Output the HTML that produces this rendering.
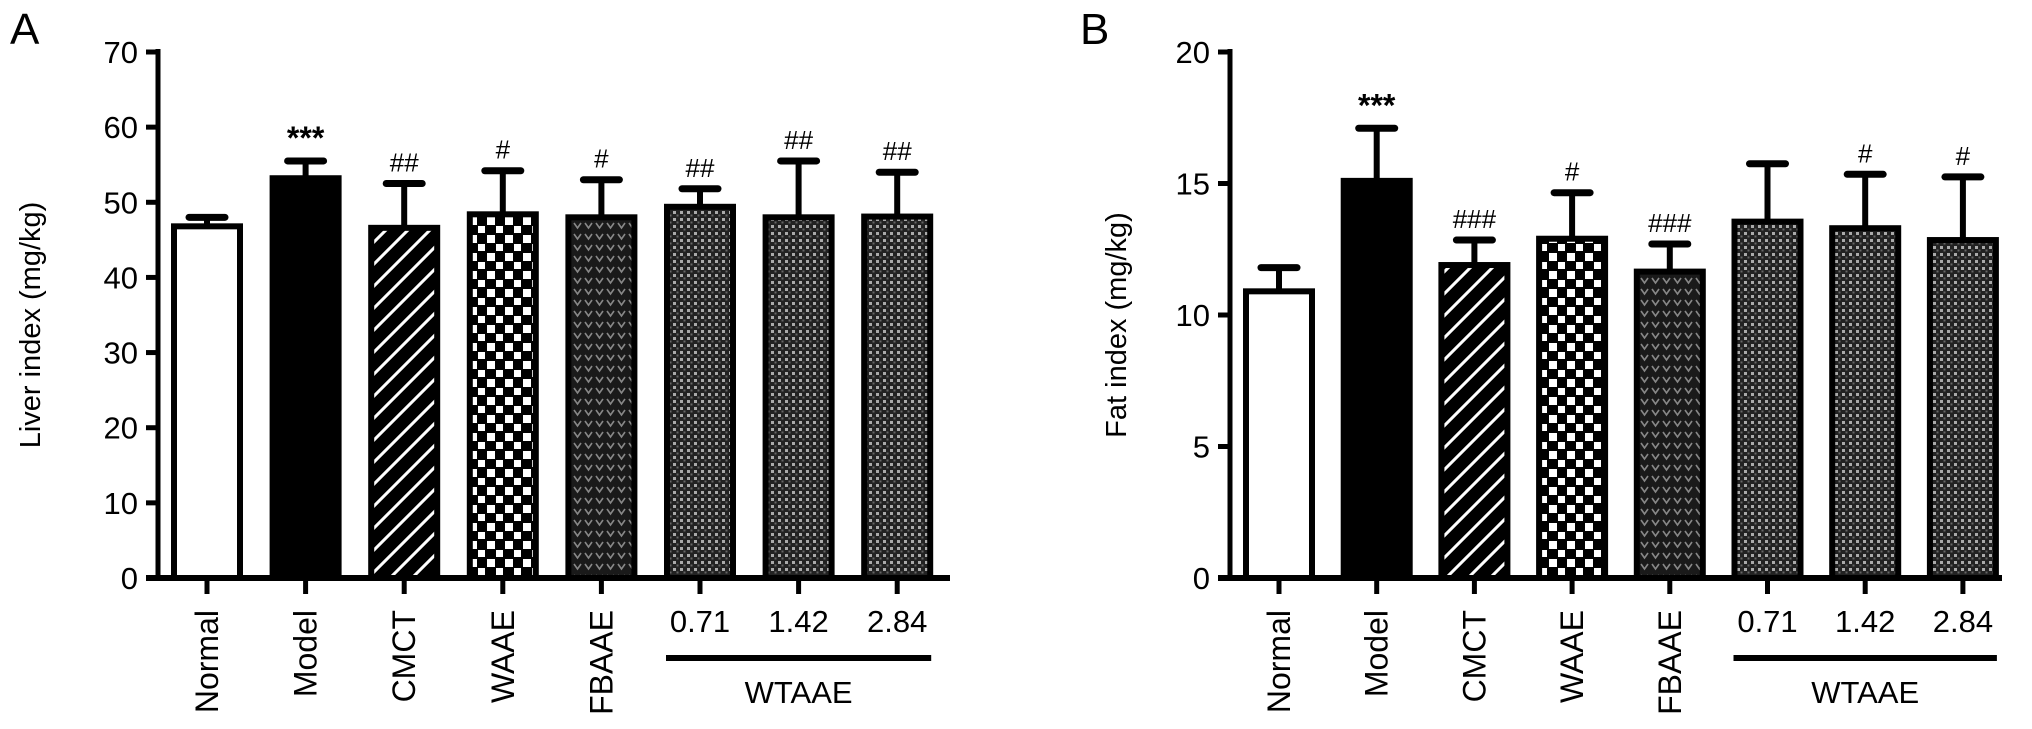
<!DOCTYPE html>
<html><head><meta charset="utf-8">
<style>
html,body{margin:0;padding:0;background:#fff;}
svg{display:block;font-family:"Liberation Sans",Arial,sans-serif;}
</style></head>
<body>
<svg id="chart" width="2032" height="729" viewBox="0 0 2032 729" xmlns="http://www.w3.org/2000/svg">
<defs>
  <pattern id="p-stripe" patternUnits="userSpaceOnUse" width="22" height="22">
    <rect width="22" height="22" fill="#000"/>
    <path d="M-5,27 L27,-5 M-16,16 L16,-16 M6,38 L38,6" stroke="#fff" stroke-width="3"/>
  </pattern>
  <pattern id="p-check" patternUnits="userSpaceOnUse" width="18" height="18">
    <rect width="18" height="18" fill="#000"/>
    <rect x="1" y="1" width="8" height="8" fill="#fff"/>
    <rect x="10" y="10" width="7" height="7" fill="#fff"/>
  </pattern>
  <pattern id="p-vee" patternUnits="userSpaceOnUse" width="11" height="11">
    <rect width="11" height="11" fill="#1a1a1a"/>
    <path d="M2,3 L5.5,8 L9,3" stroke="#888" stroke-width="1.6" fill="none"/>
  </pattern>
  <pattern id="p-dot" patternUnits="userSpaceOnUse" width="7" height="7">
    <rect width="7" height="7" fill="#222"/>
    <rect x="1" y="1" width="3" height="3" fill="#aaa"/>
    <rect x="4.5" y="4.5" width="2" height="2" fill="#666"/>
  </pattern>
</defs>
<g id="root"></g>
</svg>
<script>
const categories = ["Normal","Model","CMCT","WAAE","FBAAE","0.71","1.42","2.84"];
const fills = ["#fff","#000","url(#p-stripe)","url(#p-check)","url(#p-vee)","url(#p-dot)","url(#p-dot)","url(#p-dot)"];
const liverValues = [46.8,53.2,46.6,48.4,48.0,49.4,48.0,48.1];
const liverErrTops = [48.0,55.5,52.5,54.2,53.0,51.8,55.5,54.0];
const liverMarks = ["","***","##","#","#","##","##","##"];
const liverTicks = [0,10,20,30,40,50,60,70];
const fatValues = [10.9,15.1,11.9,12.9,11.65,13.55,13.3,12.85];
const fatErrTops = [11.8,17.1,12.85,14.65,12.7,15.75,15.35,15.25];
const fatMarks = ["","***","###","#","###","","#","#"];
const fatTicks = [0,5,10,15,20];

const NS = "http://www.w3.org/2000/svg";
const root = document.getElementById('root');
function mk(tag, attrs, parent, txt){
  const e = document.createElementNS(NS, tag);
  for (const k in attrs) e.setAttribute(k, attrs[k]);
  if (txt !== undefined) e.textContent = txt;
  (parent||root).appendChild(e);
  return e;
}

function panel(o){
  const g = mk('g', {});
  
  
  const top = 52, base = 578;
  const y = v => base - (v / o.max) * (base - top);
  const x = i => o.first + i * o.step;
  const bw = 66;
  const L = mk('text', {x:o.letterX, y:44, 'font-size':44}, g, o.letter);
  
  
  const yt = mk('text', {x:0, y:0, 'font-size':29, 'text-anchor':'middle', transform:`translate(${o.titleX},${(top+base)/2+10}) rotate(-90)`}, g, o.title);
  
  
  o.values.forEach((v,i)=>{
    const cx = x(i);
    const eb = mk('line', {x1:cx, x2:cx, y1:y(v), y2:y(o.errs[i]), stroke:'#000', 'stroke-width':6}, g);
    
    
    const cap = mk('line', {x1:cx-18, x2:cx+18, y1:y(o.errs[i]), y2:y(o.errs[i]), stroke:'#000', 'stroke-width':7, 'stroke-linecap':'round'}, g);
    
    
    const r = mk('rect', {x:cx-bw/2, y:y(v), width:bw, height:base-y(v), fill:fills[i], stroke:'#000', 'stroke-width':6}, g);
    
    
    if (o.marks[i]) {
      const m = mk('text', {x:cx, y:y(o.errs[i])-12, 'font-size': o.marks[i]==='***'?32:26, 'text-anchor':'middle', 'font-weight': o.marks[i]==='***'?'bold':'normal'}, g, o.marks[i]);
      
      
    }
  });
  const ya = mk('line', {x1:o.axisX, x2:o.axisX, y1:top-3, y2:base, stroke:'#000', 'stroke-width':5}, g);
  
  
  const xa = mk('line', {x1:o.axisX-12, x2:o.axisEnd, y1:base, y2:base, stroke:'#000', 'stroke-width':6}, g);
  
  
  o.ticks.forEach(t=>{
    const tk = mk('line', {x1:o.axisX-12, x2:o.axisX, y1:y(t), y2:y(t), stroke:'#000', 'stroke-width':5}, g);
    
    
    const tl = mk('text', {x:o.axisX-20, y:y(t)+11, 'font-size':31, 'text-anchor':'end'}, g, String(t));
    
    
  });
  categories.forEach((c,i)=>{
    const cx = x(i);
    const tk = mk('line', {x1:cx, x2:cx, y1:base, y2:base+16, stroke:'#000', 'stroke-width':5}, g);
    
    
    let lab;
    if (i < 5) {
      lab = mk('text', {x:0, y:0, 'font-size':32, 'text-anchor':'end', transform:`translate(${cx+11},${610}) rotate(-90)`}, g, c);
    } else {
      lab = mk('text', {x:cx, y:632, 'font-size':31, 'text-anchor':'middle'}, g, c);
    }
    
    
  });
  const gb = mk('line', {x1:x(5)-34, x2:x(7)+34, y1:658, y2:658, stroke:'#000', 'stroke-width':6}, g);
  
  
  const gl = mk('text', {x:x(6), y:703, 'font-size':31, 'text-anchor':'middle'}, g, 'WTAAE');
  
  
}

panel({name:'panel-a-liver', letter:'A', letterX:10, title:'Liver index (mg/kg)', titleX:40, axisX:158, axisEnd:950, first:207, step:98.6, max:70, values:liverValues, errs:liverErrTops, marks:liverMarks, ticks:liverTicks});
panel({name:'panel-b-fat', letter:'B', letterX:1080, title:'Fat index (mg/kg)', titleX:1126, axisX:1230, axisEnd:2002, first:1279, step:97.7, max:20, values:fatValues, errs:fatErrTops, marks:fatMarks, ticks:fatTicks});
</script>
</body></html>
